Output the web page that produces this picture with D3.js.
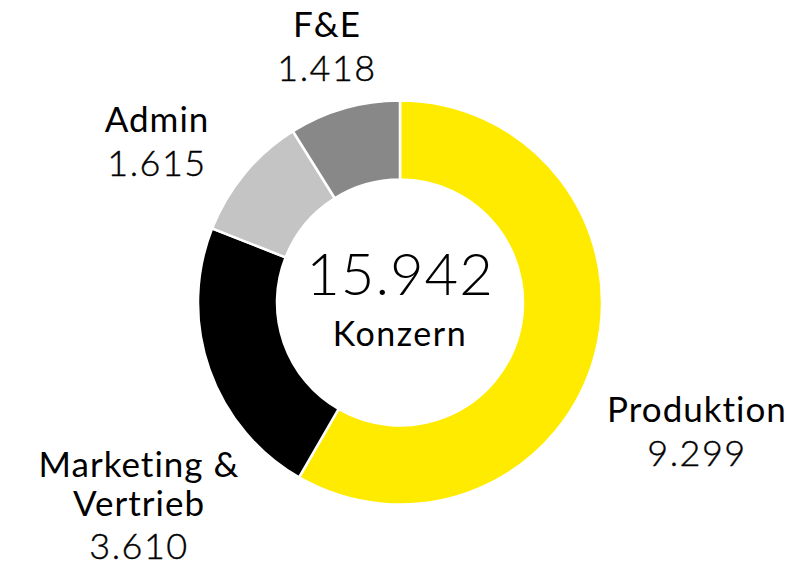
<!DOCTYPE html>
<html>
<head>
<meta charset="utf-8">
<script src="https://cdn.jsdelivr.net/npm/d3@7"></script>
<style>
  body { margin: 0; background: #fff; }
  text { font-family: Lato, "Noto Sans", sans-serif; fill: #000; }
</style>
</head>
<body>
<div id="chart"></div>
<script>
// Daten
var categories = ["Produktion", "Marketing & Vertrieb", "Admin", "F&E"];
var values = [9299, 3610, 1615, 1418];
var valueLabels = ["9.299", "3.610", "1.615", "1.418"];
var colors = ["#ffeb00", "#000000", "#c4c4c4", "#888888"];
var totalLabel = "15.942";
var centerLabel = "Konzern";

// label lines (name can wrap)
var nameLines = [["Produktion"], ["Marketing &", "Vertrieb"], ["Admin"], ["F&E"]];

var width = 812, height = 568;
var cx = 400, cy = 302.5;
var outerR = 202, innerR = 123;

var svg = d3.select("#chart").append("svg")
    .attr("width", width)
    .attr("height", height);

var g = svg.append("g")
    .attr("transform", "translate(" + cx + "," + cy + ")");

var pie = d3.pie().sort(null).value(function(d){ return d; });
var arcs = pie(values);

var arc = d3.arc().innerRadius(innerR).outerRadius(outerR);

g.selectAll("path.slice")
  .data(arcs)
  .enter().append("path")
  .attr("class", "slice")
  .attr("d", arc)
  .attr("fill", function(d, i){ return colors[i]; })
  .attr("stroke", "#fff")
  .attr("stroke-width", 2.5);

// center
g.append("text")
  .attr("text-anchor", "middle")
  .attr("y", -8)
  .style("font-size", "58px")
  .style("font-weight", 300)
  .style("letter-spacing", "1px")
  .text(totalLabel);

g.append("text")
  .attr("text-anchor", "middle")
  .attr("y", 43)
  .style("font-size", "34px")
  .style("font-weight", 400)
  .style("letter-spacing", "1.5px")
  .text(centerLabel);

// label anchors: x center and baseline of first line (hand placed)
var labelPos = [
  {x: 697, y: 422},
  {x: 139, y: 477},
  {x: 157, y: 132},
  {x: 327, y: 37}
];
var lineH = 38.5;

var labels = svg.selectAll("g.label")
  .data(arcs)
  .enter().append("g")
  .attr("class", "label")
  .attr("transform", function(d, i){ return "translate(" + labelPos[i].x + "," + labelPos[i].y + ")"; });

labels.each(function(d, i){
  var sel = d3.select(this);
  var lines = nameLines[i];
  lines.forEach(function(l, k){
    sel.append("text")
      .attr("text-anchor", "middle")
      .attr("y", k * lineH)
      .style("font-size", "35px")
      .style("font-weight", 400)
      .style("letter-spacing", "1px")
      .text(l);
  });
  sel.append("text")
    .attr("text-anchor", "middle")
    .attr("y", lines.length * lineH + 5)
    .style("font-size", "36px")
    .style("font-weight", 300)
    .style("letter-spacing", "1.5px")
    .style("stroke", "#000")
    .style("stroke-width", 0.4)
    .text(valueLabels[i]);
});
</script>
</body>
</html>
